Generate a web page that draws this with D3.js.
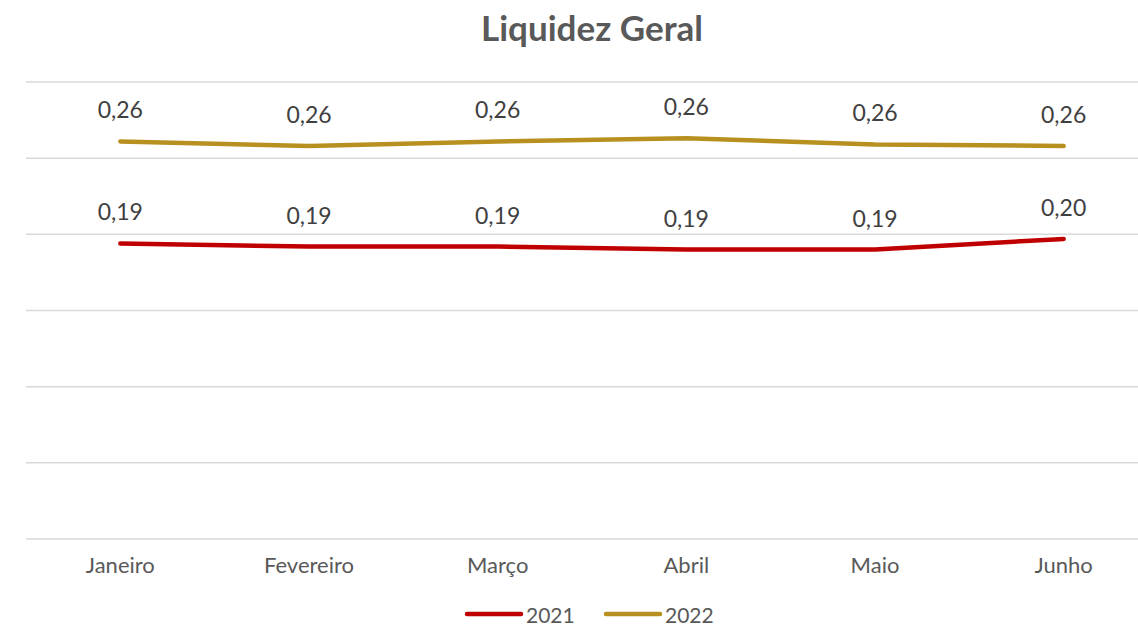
<!DOCTYPE html>
<html><head><meta charset="utf-8">
<script src="https://cdn.jsdelivr.net/npm/d3@7"></script>
<style>body{margin:0;background:#fff}svg{display:block}text{font-family:Lato,"Open Sans",sans-serif}</style>
</head><body><svg id="c" width="1138" height="628"></svg>
<script>
const categories = ["Janeiro","Fevereiro","Março","Abril","Maio","Junho"];
const series2021 = [0.194, 0.192, 0.192, 0.190, 0.190, 0.197];
const series2022 = [0.261, 0.258, 0.261, 0.263, 0.259, 0.258];
const seriesNames = ["2021","2022"];
const colors = ["#C00000","#B8901F"];
const yTicks = [0,0.05,0.10,0.15,0.20,0.25,0.30];

const svg = d3.select("#c");
const x = d3.scaleBand().domain(categories).range([26,1158]);
const y = d3.scaleLinear().domain([0,0.30]).range([539,82]);

svg.append("g").selectAll("line").data(yTicks).join("line")
  .attr("x1",26).attr("x2",1138).attr("y1",d=>y(d)).attr("y2",d=>y(d))
  .attr("stroke","#d9d9d9").attr("stroke-width",1.5);

svg.append("text").attr("x",592).attr("y",41).attr("text-anchor","middle")
  .attr("font-size",35).attr("font-weight","bold").attr("fill","#595959").text("Liquidez Geral");

const xAxis = svg.append("g").attr("transform","translate(0,539)")
  .call(d3.axisBottom(x).tickSize(0).tickPadding(18));
xAxis.select(".domain").remove();
xAxis.selectAll("text").attr("font-size",22).attr("fill","#595959").style("font-family","Lato,'Open Sans',sans-serif");

const fmt = v => d3.format(".2f")(v).replace(".",",");
const line = d3.line().x((d,i)=>x(categories[i])+x.bandwidth()/2).y(d=>y(d));
[series2021, series2022].forEach((s,k)=>{
  svg.append("path").datum(s).attr("d",line).attr("fill","none")
    .attr("stroke",colors[k]).attr("stroke-width",4.5).attr("stroke-linecap","round").attr("stroke-linejoin","round");
  svg.append("g").selectAll("text").data(s).join("text")
    .attr("x",(d,i)=>x(categories[i])+x.bandwidth()/2).attr("y",d=>y(d)-23)
    .attr("text-anchor","middle").attr("font-size",23).attr("fill","#404040").text(d=>fmt(d));
});

const leg = svg.append("g");
const legX = [467, 606];
seriesNames.forEach((n,k)=>{
  leg.append("line").attr("x1",legX[k]).attr("x2",legX[k]+54).attr("y1",614).attr("y2",614)
    .attr("stroke",colors[k]).attr("stroke-width",4.5).attr("stroke-linecap","round");
  leg.append("text").attr("x",legX[k]+59).attr("y",614).attr("dominant-baseline","central")
    .attr("font-size",21).attr("fill","#595959").text(n);
});
</script></body></html>
